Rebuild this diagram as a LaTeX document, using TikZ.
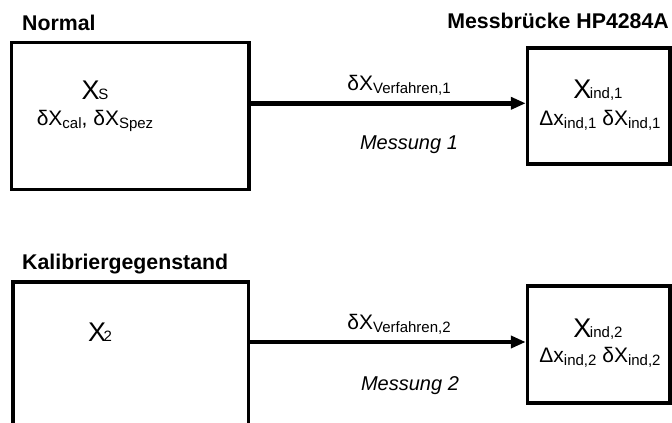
\documentclass[tikz,border=0pt]{standalone}
\usepackage{fontspec}
\setmainfont{Liberation Sans}
\usetikzlibrary{arrows.meta}
\newcommand{\mysub}[1]{\raisebox{-3pt}{\fontsize{15}{15}\selectfont #1}}
\newcommand{\bigX}[1]{{\fontsize{27}{27}\selectfont X}\kern-1.5pt{\fontsize{15}{15}\selectfont #1}}
\begin{document}
\begin{tikzpicture}[x=1pt,y=-1pt,
  box/.style={draw, line width=3.5pt, inner sep=0pt},
  lbl/.style={font=\fontsize{21.3}{21.3}\selectfont\bfseries, inner sep=0pt},
  txt/.style={font=\fontsize{21}{21}\selectfont, inner sep=0pt},
  mess/.style={font=\fontsize{20}{20}\selectfont\itshape, inner sep=0pt},
  arr/.style={line width=4.5pt, -{Triangle[length=15pt,width=12pt]}}]
\useasboundingbox (0,0) rectangle (672,423);
\clip (0,0) rectangle (672,423);

\node[lbl, anchor=base west] (tn) at (22,30) {Normal};
\node[lbl, anchor=base east] (tm) at (669,28) {Messbrücke HP4284A};
\node[lbl, anchor=base west] (tk) at (22,269) {Kalibriergegenstand};

\node[box, minimum width=237.3pt, minimum height=147.2pt] (n1) at (130.3,115.9) {};
\node[box, minimum width=142.5pt, minimum height=116pt] (m1) at (598.75,105.9) {};
\node[box, minimum width=235.7pt, minimum height=147pt] (n2) at (130.8,355.5) {};
\node[box, minimum width=142.5pt, minimum height=117pt] (m2) at (598.75,344.5) {};

\node[txt, anchor=base] (xs) at (95,99) {\bigX{S}};
\node[txt, anchor=base] (xsd) at (95,125) {δX\mysub{cal}, δX\mysub{Spez}};
\node[txt, anchor=base] (v1) at (399,90) {δX\mysub{Verfahren,1}};
\node[mess, anchor=base] (me1) at (409,149) {Messung 1};
\node[txt, anchor=base] (xi1) at (598,98) {\bigX{ind,1}};
\node[txt, anchor=base] (dx1) at (600,125) {Δx\mysub{ind,1} δX\mysub{ind,1}};

\node[txt, anchor=base] (x2) at (100,341) {{\fontsize{27}{27}\selectfont X}\kern-2.5pt{\fontsize{15}{15}\selectfont 2}};
\node[txt, anchor=base] (v2) at (399,329) {δX\mysub{Verfahren,2}};
\node[mess, anchor=base] (me2) at (410,390) {Messung 2};
\node[txt, anchor=base] (xi2) at (598,337) {\bigX{ind,2}};
\node[txt, anchor=base] (dx2) at (600,362) {Δx\mysub{ind,2} δX\mysub{ind,2}};

\coordinate (y1) at (0,103.3);
\coordinate (y2) at (0,342);
\draw[arr] (n1.east |- y1) -- (m1.west |- y1);
\draw[arr] (n2.east |- y2) -- (m2.west |- y2);
\end{tikzpicture}
\end{document}
